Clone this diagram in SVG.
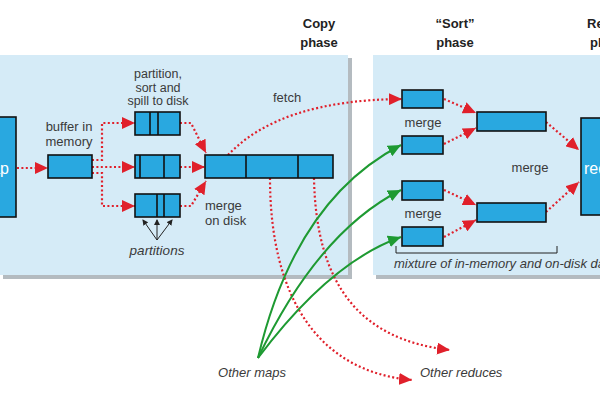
<svg xmlns="http://www.w3.org/2000/svg" width="600" height="400" viewBox="0 0 600 400">
<defs>
<style>
.panel{fill:#d5ebf7}
.shadow{fill:#b4bbc0}
.box{fill:#29a8e0;stroke:#111;stroke-width:1.6}
.div{stroke:#111;stroke-width:1.6}
.t{font-family:"Liberation Sans",Arial,sans-serif;font-size:13px;fill:#3a3a3a}
.ti{font-family:"Liberation Sans",Arial,sans-serif;font-size:13px;fill:#3a3a3a;font-style:italic}
.tb{font-family:"Liberation Sans",Arial,sans-serif;font-size:13px;fill:#222;font-weight:bold}
.tw{font-family:"Liberation Sans",Arial,sans-serif;font-size:16px;fill:#fff}
.red{fill:none;stroke:#e0202b;stroke-width:2.2;stroke-dasharray:2 2.4}
.green{fill:none;stroke:#1e9a32;stroke-width:2}
.thin{fill:none;stroke:#222;stroke-width:1}
</style>
<marker id="ar" markerUnits="userSpaceOnUse" markerWidth="14" markerHeight="12" refX="13" refY="6" orient="auto">
<path d="M0,0 L13,6 L0,12 z" fill="#e0202b"/>
</marker>
<marker id="ag" markerUnits="userSpaceOnUse" markerWidth="14" markerHeight="12" refX="13" refY="6" orient="auto">
<path d="M0,0 L13,6 L0,12 z" fill="#1e9a32"/>
</marker>
<marker id="ak" markerUnits="userSpaceOnUse" markerWidth="6" markerHeight="6" refX="5" refY="3" orient="auto">
<path d="M0,0 L6,3 L0,6 z" fill="#222"/>
</marker>
</defs>

<g id="panels">
<rect class="shadow" x="3" y="58" width="349" height="221"/>
<rect class="panel" x="-2" y="55" width="350" height="220"/>
<rect class="shadow" x="376" y="58" width="230" height="221"/>
<rect class="panel" x="373" y="55" width="230" height="220"/>
</g>

<g id="phase-labels">
<text class="tb" x="319" y="28" text-anchor="middle">Copy</text>
<text class="tb" x="319" y="47" text-anchor="middle">phase</text>
<text class="tb" x="455" y="28" text-anchor="middle">“Sort”</text>
<text class="tb" x="455" y="47" text-anchor="middle">phase</text>
<text class="tb" x="587" y="28">Reduce</text>
<text class="tb" x="590" y="47">phase</text>
</g>

<g id="connectors">
<path class="red" d="M17,168 L48,168" marker-end="url(#ar)"/>
<path class="red" d="M92,160 L102,160 L102,123 L135,123" marker-end="url(#ar)"/>
<path class="red" d="M92,167 L135,167" marker-end="url(#ar)"/>
<path class="red" d="M92,173 L102,173 L102,206 L135,206" marker-end="url(#ar)"/>
<path class="red" d="M180,123 L191,123 L206,153" marker-end="url(#ar)"/>
<path class="red" d="M180,167 L205,167" marker-end="url(#ar)"/>
<path class="red" d="M180,206 L191,206 L206,181" marker-end="url(#ar)"/>
<path class="red" d="M228,155 Q280,100 402,99" marker-end="url(#ar)"/>
<path class="red" d="M270,178 C270,300 320,372 412,380" marker-end="url(#ar)"/>
<path class="red" d="M314,178 C316,285 360,340 450,350" marker-end="url(#ar)"/>
<path class="red" d="M444,99 L476,113" marker-end="url(#ar)"/>
<path class="red" d="M444,144 L476,128" marker-end="url(#ar)"/>
<path class="red" d="M444,190 L476,205" marker-end="url(#ar)"/>
<path class="red" d="M444,237 L476,220" marker-end="url(#ar)"/>
<path class="red" d="M546,122 L579,150" marker-end="url(#ar)"/>
<path class="red" d="M546,212 L579,182" marker-end="url(#ar)"/>
<path class="green" d="M258,358 Q295,200 401,145" marker-end="url(#ag)"/>
<path class="green" d="M258,358 Q318,232 401,190" marker-end="url(#ag)"/>
<path class="green" d="M258,358 Q330,262 401,237" marker-end="url(#ag)"/>
<path class="thin" d="M157,240 L143,220" marker-end="url(#ak)"/>
<path class="thin" d="M157,240 L157,220" marker-end="url(#ak)"/>
<path class="thin" d="M157,240 L172,220" marker-end="url(#ak)"/>
<path class="thin" d="M396,246 L396,253 L557,253 L557,246"/>
</g>

<g id="map">
<rect class="box" x="-5" y="117" width="21" height="100"/>
<text class="tw" x="9" y="174" text-anchor="end">Map</text>
</g>

<g id="buffer">
<rect class="box" x="48" y="155" width="44" height="23"/>
<text class="t" x="69" y="131" text-anchor="middle">buffer in</text>
<text class="t" x="69" y="146" text-anchor="middle">memory</text>
</g>

<g id="spills">
<text class="t" x="158" y="78" text-anchor="middle" style="font-size:12.5px">partition,</text>
<text class="t" x="158" y="91.5" text-anchor="middle" style="font-size:12.5px">sort and</text>
<text class="t" x="158" y="105" text-anchor="middle" style="font-size:12.5px">spill to disk</text>
<rect class="box" x="135" y="112" width="45" height="23"/>
<line class="div" x1="150" y1="112" x2="150" y2="135"/>
<line class="div" x1="158" y1="112" x2="158" y2="135"/>
<rect class="box" x="135" y="155" width="45" height="23"/>
<line class="div" x1="140" y1="155" x2="140" y2="178"/>
<line class="div" x1="164" y1="155" x2="164" y2="178"/>
<rect class="box" x="135" y="194" width="45" height="23"/>
<line class="div" x1="157" y1="194" x2="157" y2="217"/>
<line class="div" x1="164" y1="194" x2="164" y2="217"/>
<text class="ti" x="157" y="255" text-anchor="middle" style="font-size:13.5px">partitions</text>
</g>

<g id="merge-disk">
<rect class="box" x="205" y="155" width="128" height="23"/>
<line class="div" x1="246" y1="155" x2="246" y2="178"/>
<line class="div" x1="298" y1="155" x2="298" y2="178"/>
<text class="t" x="205" y="210">merge</text>
<text class="t" x="205" y="225">on disk</text>
<text class="t" x="273" y="102">fetch</text>
</g>

<g id="sort">
<rect class="box" x="402" y="90" width="41" height="18"/>
<text class="t" x="423" y="127" text-anchor="middle">merge</text>
<rect class="box" x="402" y="136" width="41" height="18"/>
<rect class="box" x="477" y="112" width="69" height="19"/>
<text class="t" x="530" y="172" text-anchor="middle">merge</text>
<rect class="box" x="402" y="181" width="41" height="19"/>
<text class="t" x="423" y="218" text-anchor="middle">merge</text>
<rect class="box" x="402" y="227" width="41" height="19"/>
<rect class="box" x="477" y="203" width="69" height="19"/>
<text class="ti" x="394" y="268">mixture of in-memory and on-disk data</text>
</g>

<g id="reduce">
<rect class="box" x="581" y="118" width="40" height="97"/>
<text class="tw" x="584" y="174">reduce</text>
</g>

<g id="others">
<text class="ti" x="252" y="377" text-anchor="middle">Other maps</text>
<text class="ti" x="420" y="377">Other reduces</text>
</g>
</svg>
